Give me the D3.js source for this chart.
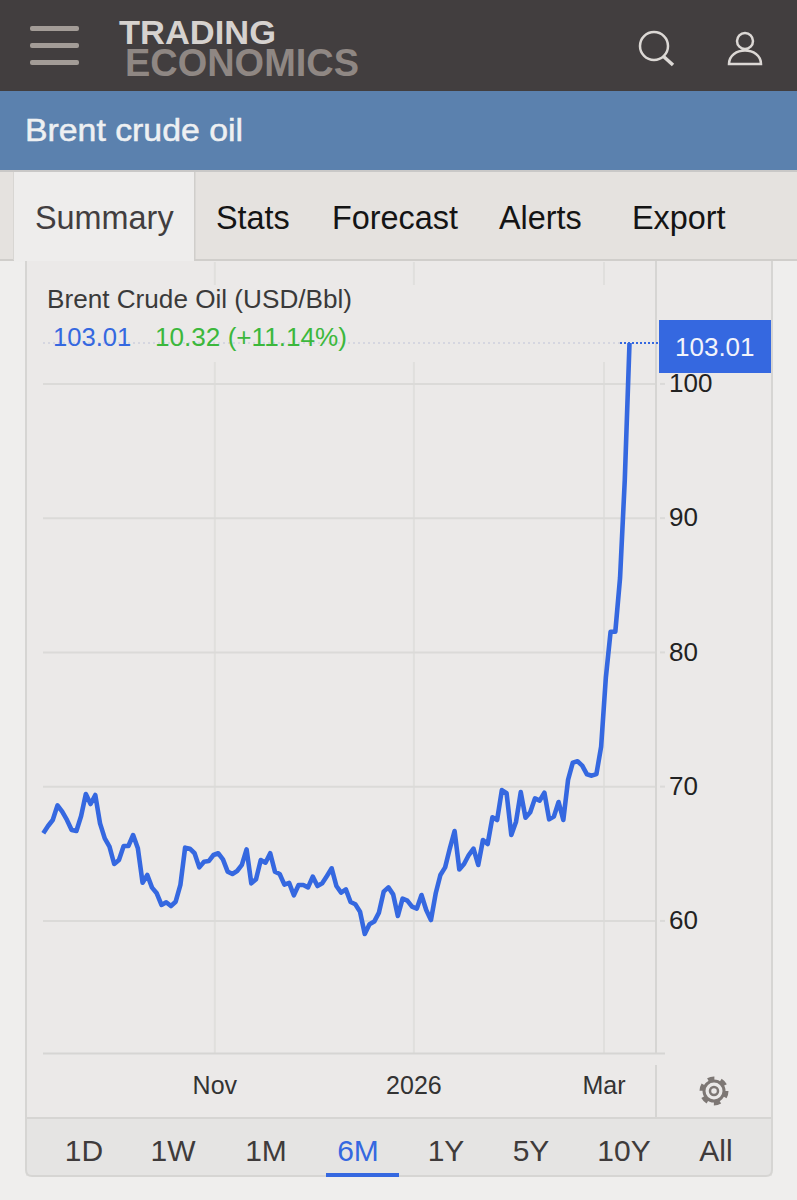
<!DOCTYPE html>
<html lang="en">
<head>
  <meta charset="UTF-8" />
  <script src="https://d3js.org/d3.v7.min.js"></script>
  <title>Brent crude oil</title>
  <style>
    body { margin: 0; background: #efeeed; }
    svg { display: block; }
    text { font-family: "Liberation Sans", Arial, sans-serif; }
    .domain { display: none; }
  </style>
</head>
<body>
  <svg width="797" height="1200"></svg>

  <script>
    const width = 797;
    const height = 1200;

    // daily closes, one per trading day
    const prices = [
      66.49, 67.03, 67.48, 68.57, 68.10, 67.48, 66.73, 66.66, 67.78, 69.41,
      68.67, 69.34, 67.23, 66.11, 65.49, 64.20, 64.50, 65.54, 65.54, 66.36,
      65.37, 62.81, 63.38, 62.44, 62.02, 61.15, 61.35, 61.07, 61.39, 62.64,
      65.42, 65.34, 65.00, 63.95, 64.37, 64.42, 64.87, 65.00, 64.55, 63.63,
      63.46, 63.68, 64.13, 65.29, 62.76, 63.06, 64.50, 64.30, 65.00, 63.63,
      63.46, 62.66, 62.79, 61.87, 62.64, 62.64, 62.46, 63.26, 62.56, 62.76,
      63.31, 63.88, 62.56, 62.07, 62.31, 61.37, 61.20, 60.65, 58.99, 59.71,
      59.91, 60.58, 62.14, 62.46, 61.94, 60.33, 61.62, 61.47, 61.02, 60.87,
      61.89, 60.77, 60.03, 62.00, 63.38, 63.95, 65.37, 66.66, 63.80, 64.20,
      64.87, 65.34, 64.13, 65.99, 65.69, 67.68, 67.48, 69.71, 69.47, 66.36,
      67.35, 69.56, 67.65, 68.05, 69.09, 68.92, 69.51, 67.53, 67.73, 68.82,
      67.48, 70.46, 71.75, 71.85, 71.53, 70.88, 70.78, 70.90, 72.94, 78.10,
      81.50, 81.50, 85.50, 92.80, 103.01
    ];
    const yTicks = [60, 70, 80, 90, 100];
    const xTickPos = [36.18, 78.29, 118.5];
    const xTickLabels = ["Nov", "2026", "Mar"];
    const tabs = ["Summary", "Stats", "Forecast", "Alerts", "Export"];
    const tabStart = [35, 216, 332, 499, 632];
    const ranges = ["1D", "1W", "1M", "6M", "1Y", "5Y", "10Y", "All"];
    const rangeMid = [84, 173, 266, 358, 446, 531, 624, 716];

    const last = prices[prices.length - 1];
    const blue = "#3568e0";
    const gridH = "#dbdad8";
    const gridV = "#e0dfdd";
    const chartBg = "#ebe9e8";

    const x = d3.scaleLinear().domain([0, prices.length - 1]).range([43.3, 629.5]);
    const y = d3.scaleLinear().domain([60, 100]).range([920.4, 383.4]);

    const svg = d3.select("svg");

    function rect(px, py, w, h, fill) {
      return svg.append("rect").attr("x", px).attr("y", py).attr("width", w).attr("height", h).attr("fill", fill);
    }
    function label(str, px, py, size, fill) {
      return svg.append("text").attr("x", px).attr("y", py).attr("font-size", size).attr("fill", fill).text(str);
    }

    // header
    rect(0, 0, width, 91, "#423e3f");
    [26, 43, 60].forEach(b => {
      rect(30, b, 49, 5, "#a39c97").attr("rx", 2);
    });
    label("TRADING", 119, 44, 34, "#d6d2cf").attr("font-weight", "bold")
      .attr("textLength", 157).attr("lengthAdjust", "spacingAndGlyphs");
    label("ECONOMICS", 125, 76, 39, "#8f8783").attr("font-weight", "bold")
      .attr("textLength", 234).attr("lengthAdjust", "spacingAndGlyphs");

    const icons = svg.append("g").attr("fill", "none").attr("stroke", "#dcd8d5").attr("stroke-width", 2.5);
    icons.append("circle").attr("cx", 654).attr("cy", 46).attr("r", 14);
    icons.append("line").attr("x1", 663).attr("y1", 56).attr("x2", 673).attr("y2", 65).attr("stroke-width", 3.5);
    icons.append("circle").attr("cx", 745).attr("cy", 41).attr("r", 8);
    icons.append("path").attr("d", "M729 64 C729 46 761 46 761 64 Z");

    // title bar
    rect(0, 91, width, 79, "#5b81ae");
    label("Brent crude oil", 25, 141, 31, "#eef0f2")
      .attr("stroke", "#eef0f2").attr("stroke-width", 0.5)
      .attr("textLength", 218).attr("lengthAdjust", "spacingAndGlyphs");

    // tabs
    rect(0, 170, width, 91, "#e5e2df");
    rect(0, 170, width, 2, "#c9c8c7");
    rect(0, 259, width, 2, "#d0cecb");
    rect(14, 172, 180, 90, "#eeedec");
    rect(13, 172, 1, 88, "#d8d6d3");
    rect(194, 172, 1.5, 88, "#d0cecb");
    tabs.forEach((t, i) => {
      label(t, tabStart[i], 229, 32.4, i === 0 ? "#423e3f" : "#141414");
    });

    // chart panel
    rect(26, 261, 746, 915, chartBg);
    rect(26, 1118, 746, 58, "#e5e4e3");
    svg.append("path")
      .attr("d", "M26 261 V1170 Q26 1176 32 1176 H766 Q772 1176 772 1170 V261")
      .attr("fill", "none").attr("stroke", "#d6d5d3").attr("stroke-width", 2);
    rect(26, 1117, 746, 2, "#d6d5d3");

    // vertical grid, month labels sit below it
    const xAxis = d3.axisBottom(x)
      .tickValues(xTickPos)
      .tickFormat((d, i) => xTickLabels[i])
      .tickSize(-791)
      .tickPadding(41);
    const xG = svg.append("g").attr("transform", "translate(0,1053)").call(xAxis);
    xG.selectAll(".tick line").attr("stroke", gridV).attr("stroke-width", 2);
    xG.selectAll(".tick text").attr("font-size", 25).attr("fill", "#333").attr("dy", 0);

    // the legend strip hides the grid behind it
    rect(36, 285, 618, 77, chartBg);

    const yAxis = d3.axisRight(y)
      .tickValues(yTicks)
      .tickSize(-613)
      .tickPadding(13);
    const yG = svg.append("g").attr("transform", "translate(656,0)").call(yAxis);
    yG.selectAll(".tick line").attr("stroke", gridH).attr("stroke-width", 2);
    yG.selectAll(".tick text").attr("font-size", 26).attr("fill", "#222").attr("dy", "0.32em");
    // short stubs right of the axis
    yG.selectAll(".tick").append("line").attr("x1", 4).attr("x2", 9).attr("stroke", gridH).attr("stroke-width", 2);

    // axis frame
    rect(655, 261, 2, 792, "#d6d5d3");
    rect(655, 1065, 2, 52, "#d6d5d3");
    rect(43, 1052.5, 622, 2, "#d6d5d3");

    // last value guide
    svg.append("line").attr("x1", 43).attr("x2", 620).attr("y1", y(last)).attr("y2", y(last))
      .attr("stroke", "#d5d6e0").attr("stroke-width", 2).attr("stroke-dasharray", "2 3");
    svg.append("line").attr("x1", 620).attr("x2", 658).attr("y1", y(last)).attr("y2", y(last))
      .attr("stroke", blue).attr("stroke-width", 2).attr("stroke-dasharray", "2 2");

    // price line
    const line = d3.line().x((d, i) => x(i)).y(d => y(d));
    svg.append("path").datum(prices)
      .attr("d", line)
      .attr("fill", "none")
      .attr("stroke", blue)
      .attr("stroke-width", 4.6)
      .attr("stroke-linejoin", "round");

    // legend
    label("Brent Crude Oil (USD/Bbl)", 47, 308, 26, "#3a3a3a")
      .attr("textLength", 305).attr("lengthAdjust", "spacingAndGlyphs");
    label(d3.format(".2f")(last), 53, 346, 25.6, blue);
    label("10.32 (+11.14%)", 155, 346, 26, "#3cb83c")
      .attr("textLength", 192).attr("lengthAdjust", "spacingAndGlyphs");

    // last value box
    rect(659, 320, 112, 53, blue);
    label(d3.format(".2f")(last), 675, 356, 26, "#f2f4fb");

    // gear
    const gear = svg.append("g").attr("transform", "translate(714,1091)").attr("fill", "none").attr("stroke", "#7d7774");
    gear.append("circle").attr("r", 10).attr("stroke-width", 3);
    gear.append("circle").attr("r", 4).attr("stroke-width", 2.5);
    gear.append("circle").attr("r", 12.5).attr("stroke-width", 4)
      .attr("stroke-dasharray", `${2 * Math.PI * 12.5 / 12} ${2 * Math.PI * 12.5 / 12}`);

    // range selector
    ranges.forEach((r, i) => {
      label(r, rangeMid[i], 1161, 30, r === "6M" ? blue : "#3f3b3b").attr("text-anchor", "middle");
    });
    rect(326, 1173, 73, 4, blue);
  </script>
</body>
</html>
